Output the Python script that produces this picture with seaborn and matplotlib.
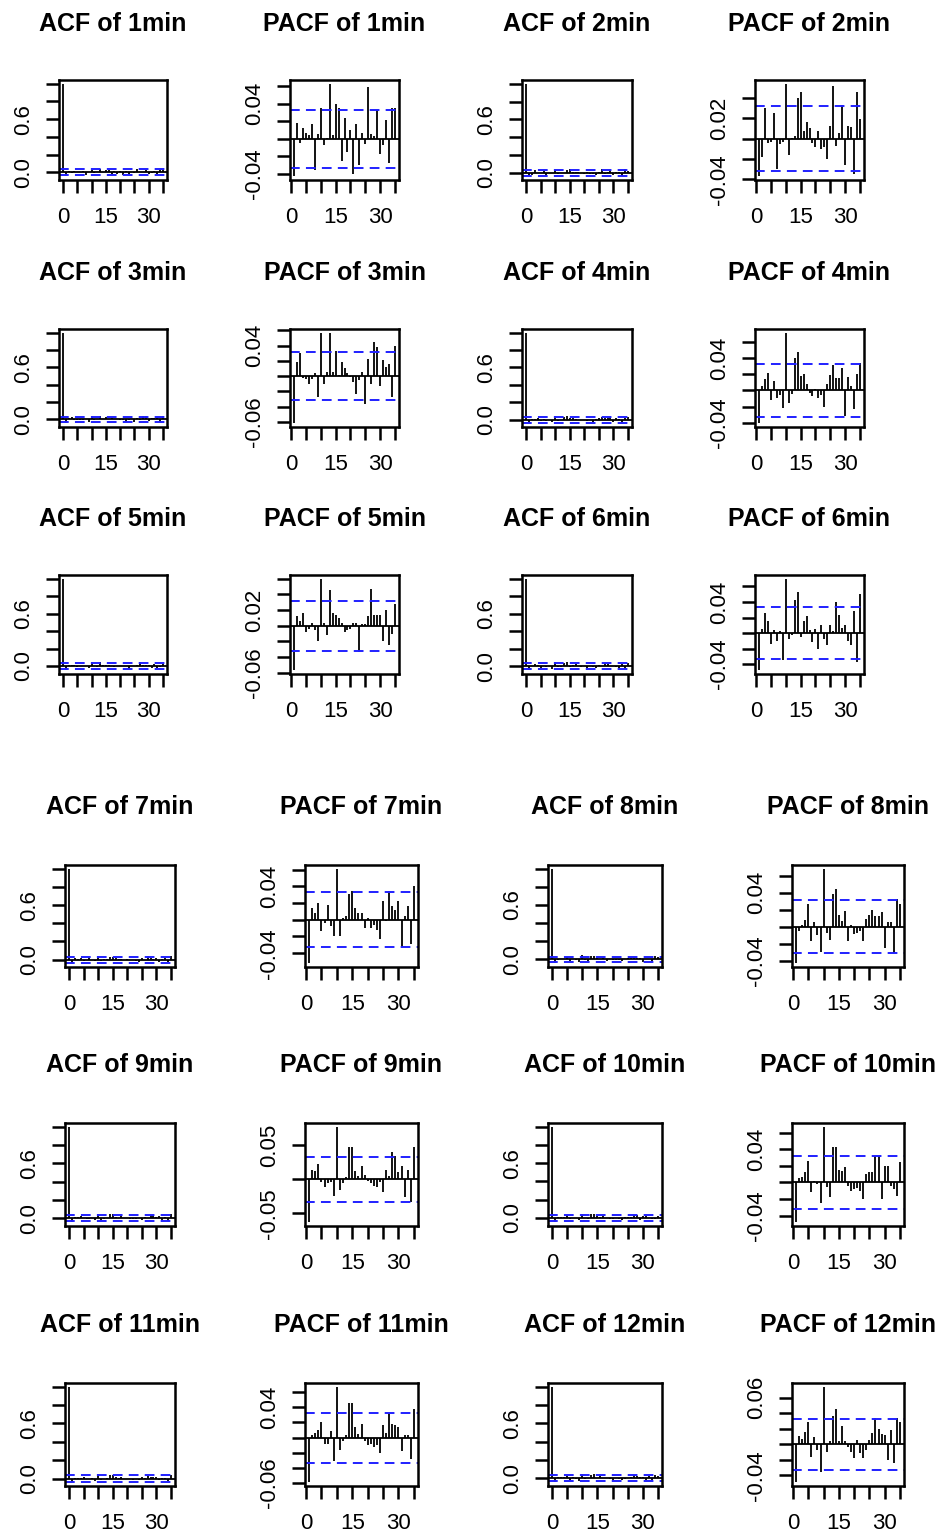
import numpy as np
import matplotlib
matplotlib.use("Agg")
import matplotlib.pyplot as plt
import seaborn as sns

sns.set_style("ticks")
plt.rcParams['font.family'] = ['Liberation Sans', 'DejaVu Sans']
plt.rcParams['text.color'] = 'black'
plt.rcParams['axes.labelcolor'] = 'black'
plt.rcParams['xtick.color'] = 'black'
plt.rcParams['ytick.color'] = 'black'

intervals = ["1min", "2min", "3min", "4min", "5min", "6min",
             "7min", "8min", "9min", "10min", "11min", "12min"]
acf_lags = list(range(0, 36))
pacf_lags = list(range(1, 36))
conf_limits = [0.033, 0.032, 0.032, 0.033, 0.032, 0.033,
               0.033, 0.031, 0.033, 0.032, 0.033, 0.033]

pacf_1min = [-0.043, 0.018, -0.005, 0.012, 0.006, 0.004, 0.017, -0.036, 0.005, 0.035,
             -0.007, 0.001, 0.063, 0.004, 0.040, 0.035, -0.026, 0.024, -0.015, 0.010,
             -0.040, 0.017, -0.030, 0.006, -0.006, 0.059, 0.005, 0.003, 0.033, -0.017,
             -0.007, 0.021, -0.028, 0.035, 0.035]
pacf_2min = [-0.037, -0.018, 0.030, -0.004, -0.003, 0.025, -0.030, -0.005, -0.003, 0.054,
             -0.016, 0.001, 0.003, 0.040, 0.046, 0.008, 0.016, 0.010, -0.004, -0.008,
             0.008, -0.010, -0.008, -0.020, 0.012, 0.052, -0.007, 0.006, 0.033, -0.026,
             0.012, 0.011, -0.035, 0.046, 0.019]
pacf_3min = [-0.062, 0.018, 0.030, -0.002, -0.004, -0.010, -0.004, 0.004, -0.028, 0.057,
             -0.010, 0.005, 0.056, 0.005, 0.033, 0.002, 0.018, 0.010, 0.004, -0.001,
             -0.008, -0.024, -0.005, 0.006, -0.036, 0.022, -0.010, 0.045, 0.038, -0.013,
             0.021, 0.012, 0.016, -0.028, 0.040]
pacf_4min = [-0.041, 0.006, 0.014, 0.022, -0.012, 0.012, -0.010, -0.006, -0.022, 0.072,
             -0.016, -0.004, 0.040, 0.048, 0.018, 0.020, 0.008, -0.003, -0.007, 0.002,
             -0.010, -0.006, -0.020, 0.008, 0.019, 0.032, 0.015, 0.015, 0.028, -0.032,
             0.017, 0.006, -0.023, 0.020, 0.034]
pacf_5min = [-0.057, 0.012, 0.006, 0.016, -0.008, -0.004, 0.004, -0.005, -0.020, 0.060,
             0.003, -0.012, 0.046, 0.016, 0.014, 0.010, 0.004, -0.008, -0.006, -0.004,
             0.003, 0.003, -0.033, 0.002, 0.002, 0.012, 0.047, 0.013, 0.014, 0.014,
             -0.020, 0.020, -0.025, -0.010, 0.028]
pacf_6min = [-0.048, 0.005, 0.026, 0.016, -0.014, 0.004, -0.010, 0.003, -0.035, 0.070,
             -0.008, -0.003, 0.043, 0.053, -0.005, 0.016, 0.022, 0.004, -0.012, 0.005,
             -0.020, 0.010, -0.008, -0.015, 0.011, 0.002, 0.040, 0.023, 0.006, 0.010,
             -0.010, -0.016, 0.028, -0.037, 0.050]
pacf_7min = [-0.052, 0.014, 0.008, 0.020, -0.014, -0.004, 0.018, -0.007, -0.020, 0.061,
             -0.020, 0.002, 0.004, 0.031, 0.034, 0.014, 0.008, 0.008, -0.010, 0.002,
             -0.010, -0.006, -0.012, -0.023, 0.022, -0.002, 0.035, 0.016, 0.012, 0.022,
             -0.032, 0.004, 0.017, -0.029, 0.040]
pacf_8min = [-0.043, -0.005, 0.002, 0.008, 0.027, -0.017, 0.006, -0.010, -0.030, 0.068,
             -0.008, -0.016, 0.038, 0.044, 0.014, 0.007, 0.018, -0.017, 0.002, -0.009,
             -0.007, -0.005, -0.017, 0.009, 0.014, 0.020, 0.012, 0.013, 0.017, -0.025,
             0.006, 0.006, -0.031, 0.032, 0.027]
pacf_9min = [-0.063, 0.014, 0.012, 0.022, -0.004, -0.012, -0.006, -0.004, -0.024, 0.077,
             -0.016, -0.006, 0.004, 0.047, 0.047, 0.012, 0.005, 0.020, 0.006, -0.003,
             -0.006, -0.010, -0.012, -0.004, -0.018, 0.014, 0.005, 0.040, 0.034, 0.010,
             0.020, -0.026, 0.014, -0.033, 0.047]
pacf_10min = [-0.048, 0.005, 0.006, 0.013, 0.026, -0.012, 0.002, -0.002, -0.025, 0.067,
              -0.006, -0.018, 0.043, 0.043, 0.015, 0.014, 0.018, -0.004, -0.010, -0.008,
              -0.007, -0.010, -0.020, 0.010, 0.012, 0.012, 0.032, 0.032, -0.020, 0.020,
              0.020, -0.004, -0.008, -0.017, 0.025]
pacf_11min = [-0.059, 0.003, 0.006, 0.010, 0.020, -0.009, -0.008, 0.008, -0.031, 0.067,
              -0.017, -0.004, 0.004, 0.046, 0.046, 0.014, 0.005, 0.018, -0.004, -0.010,
              -0.008, -0.012, -0.010, -0.020, 0.017, 0.006, 0.033, 0.018, 0.016, 0.014,
              -0.018, 0.004, 0.004, -0.028, 0.038]
pacf_12min = [-0.049, 0.010, 0.007, 0.016, 0.028, -0.016, 0.009, -0.008, -0.036, 0.074,
              -0.010, 0.004, 0.036, 0.046, 0.004, 0.024, 0.004, -0.004, -0.010, -0.018,
              0.005, -0.012, -0.018, -0.007, 0.006, 0.015, 0.034, 0.020, 0.013, 0.012,
              -0.020, 0.018, -0.024, 0.034, 0.028]

acf_1min = [1.0, -0.045, 0.02, -0.005, 0.01, 0.006, 0.004, 0.017, -0.03, 0.005, 0.03, -0.007, 0.001,
            0.04, 0.004, 0.03, 0.03, -0.02, 0.02, -0.015, 0.01, -0.03, 0.017, -0.02, 0.006, -0.006,
            0.035, 0.005, 0.003, 0.03, -0.017, -0.007, 0.02, -0.02, 0.03, 0.03]
acf_2min = [1.0, -0.037, -0.018, 0.03, -0.004, -0.003, 0.025, -0.03, -0.005, -0.003, 0.035, -0.016, 0.001,
            0.003, 0.035, 0.04, 0.008, 0.016, 0.01, -0.004, -0.008, 0.008, -0.01, -0.008, -0.02, 0.012,
            0.04, -0.007, 0.006, 0.03, -0.026, 0.012, 0.011, -0.03, 0.04, 0.019]
acf_3min = [1.0, -0.045, 0.018, 0.03, -0.002, -0.004, -0.01, -0.004, 0.004, -0.028, 0.04, -0.01, 0.005,
            0.04, 0.005, 0.033, 0.002, 0.018, 0.01, 0.004, -0.001, -0.008, -0.024, -0.005, 0.006, -0.03,
            0.022, -0.01, 0.04, 0.035, -0.013, 0.021, 0.012, 0.016, -0.028, 0.035]
acf_4min = [1.0, -0.041, 0.006, 0.014, 0.022, -0.012, 0.012, -0.01, -0.006, -0.022, 0.045, -0.016, -0.004,
            0.035, 0.04, 0.018, 0.02, 0.008, -0.003, -0.007, 0.002, -0.01, -0.006, -0.02, 0.008, 0.019,
            0.03, 0.015, 0.015, 0.028, -0.03, 0.017, 0.006, -0.023, 0.02, 0.03]
acf_5min = [1.0, -0.05, 0.012, 0.006, 0.016, -0.008, -0.004, 0.004, -0.005, -0.02, 0.045, 0.003, -0.012,
            0.04, 0.016, 0.014, 0.01, 0.004, -0.008, -0.006, -0.004, 0.003, 0.003, -0.03, 0.002, 0.002,
            0.012, 0.04, 0.013, 0.014, 0.014, -0.02, 0.02, -0.025, -0.01, 0.028]
acf_6min = [1.0, -0.045, 0.005, 0.026, 0.016, -0.014, 0.004, -0.01, 0.003, -0.03, 0.05, -0.008, -0.003,
            0.04, 0.045, -0.005, 0.016, 0.022, 0.004, -0.012, 0.005, -0.02, 0.01, -0.008, -0.015, 0.011,
            0.002, 0.035, 0.023, 0.006, 0.01, -0.01, -0.016, 0.028, -0.03, 0.04]
acf_7min = [1.0, -0.04, 0.014, 0.008, 0.02, -0.014, -0.004, 0.018, -0.007, -0.02, 0.045, -0.02, 0.002,
            0.004, 0.031, 0.034, 0.014, 0.008, 0.008, -0.01, 0.002, -0.01, -0.006, -0.012, -0.023, 0.022,
            -0.002, 0.035, 0.016, 0.012, 0.022, -0.03, 0.004, 0.017, -0.029, 0.04]
acf_8min = [1.0, -0.043, -0.005, 0.002, 0.008, 0.027, -0.017, 0.006, -0.01, -0.03, 0.045, -0.008, -0.016,
            0.035, 0.04, 0.014, 0.007, 0.018, -0.017, 0.002, -0.009, -0.007, -0.005, -0.017, 0.009, 0.014,
            0.02, 0.012, 0.013, 0.017, -0.025, 0.006, 0.006, -0.03, 0.032, 0.027]
acf_9min = [1.0, -0.045, 0.014, 0.012, 0.022, -0.004, -0.012, -0.006, -0.004, -0.024, 0.05, -0.016, -0.006,
            0.004, 0.04, 0.04, 0.012, 0.005, 0.02, 0.006, -0.003, -0.006, -0.01, -0.012, -0.004, -0.018,
            0.014, 0.005, 0.035, 0.03, 0.01, 0.02, -0.026, 0.014, -0.03, 0.04]
acf_10min = [1.0, -0.048, 0.005, 0.006, 0.013, 0.026, -0.012, 0.002, -0.002, -0.025, 0.045, -0.006, -0.018,
             0.04, 0.04, 0.015, 0.014, 0.018, -0.004, -0.01, -0.008, -0.007, -0.01, -0.02, 0.01, 0.012,
             0.012, 0.03, 0.03, -0.02, 0.02, 0.02, -0.004, -0.008, -0.017, 0.025]
acf_11min = [1.0, -0.04, 0.003, 0.006, 0.01, 0.02, -0.009, -0.008, 0.008, -0.03, 0.045, -0.017, -0.004,
             0.004, 0.04, 0.04, 0.014, 0.005, 0.018, -0.004, -0.01, -0.008, -0.012, -0.01, -0.02, 0.017,
             0.006, 0.03, 0.018, 0.016, 0.014, -0.018, 0.004, 0.004, -0.028, 0.035]
acf_12min = [1.0, -0.045, 0.01, 0.007, 0.016, 0.028, -0.016, 0.009, -0.008, -0.03, 0.05, -0.01, 0.004,
             0.035, 0.04, 0.004, 0.024, 0.004, -0.004, -0.01, -0.018, 0.005, -0.012, -0.018, -0.007, 0.006,
             0.015, 0.03, 0.02, 0.013, 0.012, -0.02, 0.018, -0.024, 0.03, 0.028]

acf_data = [acf_1min, acf_2min, acf_3min, acf_4min, acf_5min, acf_6min,
            acf_7min, acf_8min, acf_9min, acf_10min, acf_11min, acf_12min]
pacf_data = [pacf_1min, pacf_2min, pacf_3min, pacf_4min, pacf_5min, pacf_6min,
             pacf_7min, pacf_8min, pacf_9min, pacf_10min, pacf_11min, pacf_12min]

# y tick step and which tick labels R kept for each PACF panel
pacf_tick_step = [0.02, 0.02, 0.02, 0.02, 0.02, 0.02, 0.02, 0.02, 0.05, 0.02, 0.02, 0.02]
pacf_shown = [("-0.04", "0.04"), ("-0.04", "0.02"), ("-0.06", "0.04"), ("-0.04", "0.04"),
              ("-0.06", "0.02"), ("-0.04", "0.04"), ("-0.04", "0.04"), ("-0.04", "0.04"),
              ("-0.05", "0.05"), ("-0.04", "0.04"), ("-0.06", "0.04"), ("-0.04", "0.06")]
acf_ticks = [0.0, 0.2, 0.4, 0.6, 0.8, 1.0]
acf_tick_labels = ["0.0", "", "", "0.6", "", ""]
x_ticks = [0, 5, 10, 15, 20, 25, 30, 35]
x_tick_labels = ["0", "", "", "15", "", "", "30", ""]

W, H = 942, 1537
fig = plt.figure(figsize=(W / 100, H / 100), dpi=100)
fig.patch.set_facecolor("white")

top_cols = [(59, 167), (290, 399), (522, 632), (755, 864)]
top_rows = [(80, 180), (329, 427), (575, 674)]
bot_cols = [(65, 175), (305, 418), (548, 662), (792, 904)]
bot_rows = [(865, 967), (1123, 1226), (1383, 1486)]

BLUE = "#2020ff"
LW_BOX = 1.8
LW_BAR = 1.3
DASH = (0, (5, 3.2))


def r_ylim(vals, clim):
    lo = min(-clim, min(vals))
    hi = max(clim, max(vals))
    d = (hi - lo) * 0.04
    return lo - d, hi + d


def style(ax, title, pad):
    for s in ax.spines.values():
        s.set_linewidth(LW_BOX)
        s.set_color("black")
    ax.tick_params(axis="both", direction="out", length=9.5, width=LW_BOX,
                   color="black", labelsize=16, labelcolor="black")
    ax.tick_params(axis="x", pad=10)
    ax.tick_params(axis="y", pad=8.5)
    ax.set_title(title, fontsize=18, fontweight="bold", pad=pad, color="black")
    ax.set_facecolor("white")
    ax.grid(False)


for i, name in enumerate(intervals):
    block = i // 6
    j = i % 6
    r = j // 2
    c0 = (j % 2) * 2
    cols = top_cols if block == 0 else bot_cols
    rows = top_rows if block == 0 else bot_rows
    pad = 35.5 if block == 0 else 37
    y0, y1 = rows[r]
    clim = conf_limits[i]

    # ACF panel
    x0, x1 = cols[c0]
    ax = fig.add_axes([x0 / W, 1 - y1 / H, (x1 - x0) / W, (y1 - y0) / H])
    vals = acf_data[i]
    ax.vlines(acf_lags, 0, vals, color="black", linewidth=LW_BAR)
    ax.axhline(0, color="black", linewidth=LW_BAR)
    ax.axhline(clim, color=BLUE, linewidth=1.4, linestyle=DASH)
    ax.axhline(-clim, color=BLUE, linewidth=1.4, linestyle=DASH)
    ax.set_xlim(-1.4, 36.4)
    ax.set_ylim(*r_ylim(vals, clim))
    ax.set_xticks(x_ticks)
    ax.set_xticklabels(x_tick_labels)
    ax.set_yticks(acf_ticks)
    ax.set_yticklabels(acf_tick_labels, rotation=90, va="center")
    style(ax, f"ACF of {name}", pad)

    # PACF panel
    x0, x1 = cols[c0 + 1]
    ax = fig.add_axes([x0 / W, 1 - y1 / H, (x1 - x0) / W, (y1 - y0) / H])
    vals = pacf_data[i]
    ax.vlines(pacf_lags, 0, vals, color="black", linewidth=LW_BAR)
    ax.axhline(0, color="black", linewidth=LW_BAR)
    ax.axhline(clim, color=BLUE, linewidth=1.4, linestyle=DASH)
    ax.axhline(-clim, color=BLUE, linewidth=1.4, linestyle=DASH)
    ax.set_xlim(1 - 1.36, 35 + 1.36)
    lo, hi = r_ylim(vals, clim)
    ax.set_ylim(lo, hi)
    step = pacf_tick_step[i]
    ticks = [k * step for k in range(int(np.ceil(lo / step - 1e-9)), int(np.floor(hi / step + 1e-9)) + 1)]
    labels = []
    for t in ticks:
        s = "%.2f" % t
        if s == "-0.00":
            s = "0.00"
        labels.append(s if s in pacf_shown[i] else "")
    ax.set_xticks(x_ticks)
    ax.set_xticklabels(x_tick_labels)
    ax.set_yticks(ticks)
    ax.set_yticklabels(labels, rotation=90, va="center")
    style(ax, f"PACF of {name}", pad)

fig.savefig("out.png", dpi=100, facecolor="white")
